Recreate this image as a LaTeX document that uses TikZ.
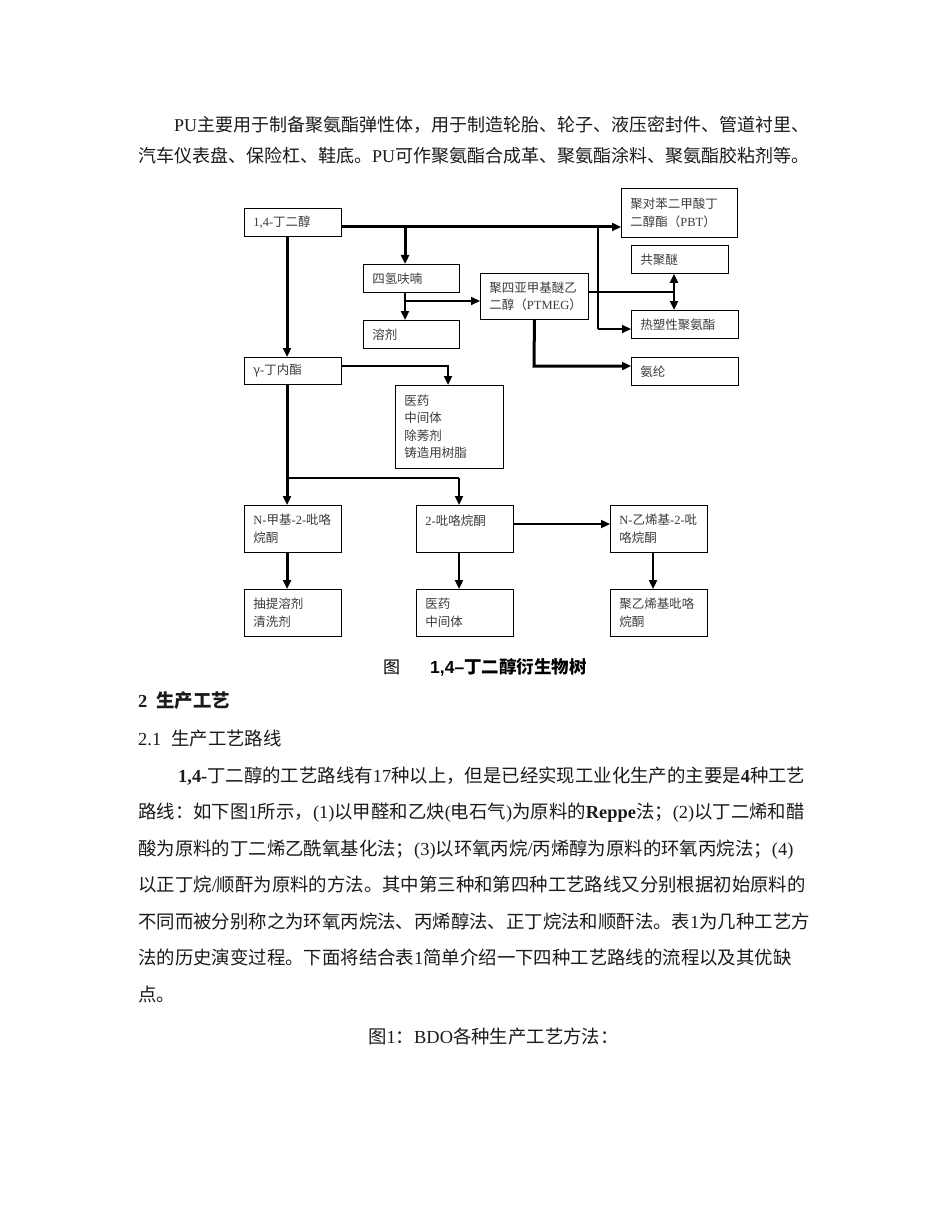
\documentclass[tikz,border=0pt]{standalone}
\usepackage{fontspec}
\setmainfont{Noto Sans CJK SC}
\newfontfamily\lat{Liberation Serif}
\newfontfamily\lsans{Liberation Sans}
\usetikzlibrary{arrows.meta}
\definecolor{ink}{HTML}{1A1A1A}
\definecolor{boxtxt}{HTML}{3C3C3C}
\XeTeXinterchartokenstate=1
\XeTeXinterchartoks 1 1 = {\hskip0pt plus 1pt minus 0.3pt}
\XeTeXinterchartoks 1 2 = {\hskip0pt plus 1pt minus 0.3pt}
\XeTeXinterchartoks 1 3 = {\hskip0pt plus 1pt minus 0.3pt}
\XeTeXinterchartoks 3 1 = {\hskip0pt plus 1pt minus 0.3pt}
\XeTeXinterchartoks 2 1 = {\hskip0pt plus 1pt minus 0.3pt}
\XeTeXinterchartoks 3 3 = {\hskip0pt plus 1pt minus 0.3pt}
\XeTeXinterchartoks 0 1 = {\hskip0pt plus 1pt minus 0.3pt}
\XeTeXinterchartoks 1 0 = {\hskip0pt plus 1pt minus 0.3pt}
\XeTeXinterchartoks 3 0 = {\hskip0pt plus 1pt minus 0.3pt}
\XeTeXinterchartoks 0 3 = {\hskip0pt plus 1pt minus 0.3pt}
\newcommand\bodyA{\fontsize{18}{20}\selectfont}
\newcommand\bodyB{\fontsize{18.4}{20}\selectfont}
\newcommand\jline[2]{\hbox to #1{#2}}
\newcommand\bx[6]{%
  \pgfmathsetmacro\bw{#4-#2}\pgfmathsetmacro\bh{#5-#3}\pgfmathsetmacro\btw{#4-#2-18}%
  \node[boxnode, minimum width=\bw pt, minimum height=\bh pt, text width=\btw pt] (#1) at (#2,#3) {#6};}
\begin{document}
\begin{tikzpicture}[x=1pt,y=-1pt,
  boxnode/.style={draw, line width=0.9pt, anchor=north west, align=left, inner xsep=9pt, inner ysep=0pt,
    text=boxtxt, font={\fontsize{12.5}{17.5}\selectfont}},
  txt/.style={anchor=base west, inner sep=0pt, text=ink},
  thk/.style={line width=3pt},
  med/.style={line width=2.2pt},
  thn/.style={line width=1.3pt},
  >={Triangle[length=9pt,width=8pt]}]
\fill[white] (0,0) rectangle (950,1230);
\useasboundingbox (0,0) rectangle (950,1230);

% upper paragraph
\node[txt, font=\bodyA] (p1) at (174,132) {\jline{639pt}{{\lat PU}主要用于制备聚氨酯弹性体，用于制造轮胎、轮子、液压密封件、管道衬里、}};
\node[txt, font=\bodyA] (p2) at (138,163) {\jline{672pt}{汽车仪表盘、保险杠、鞋底。{\lat PU}可作聚氨酯合成革、聚氨酯涂料、聚氨酯胶粘剂等。}};

% boxes
\bx{A}{244}{208}{341}{236}{{\lat 1,4-}丁二醇}
\bx{B}{363}{264}{459}{292}{四氢呋喃}
\bx{C}{363}{320}{459}{348}{溶剂}
\bx{D}{480}{273}{588}{319}{聚四亚甲基醚乙\\二醇（{\lat PTMEG}）}
\bx{E}{621}{188}{737}{237}{聚对苯二甲酸丁\\二醇酯（{\lat PBT}）}
\bx{F}{631}{245}{728}{273}{共聚醚}
\bx{G}{631}{310}{738}{338}{热塑性聚氨酯}
\bx{H}{631}{357}{738}{385}{氨纶}
\bx{I}{244}{357}{341}{384}{γ{\lat -}丁内酯}
\bx{J}{395}{385}{503}{468}{医药\\中间体\\除莠剂\\铸造用树脂}
\bx{K}{244}{505}{341}{552}{{\lat N-}甲基{\lat -2-}吡咯\\烷酮}
\bx{L}{416}{505}{513}{552}{{\lat 2-}吡咯烷酮\\\mbox{}}
\bx{M}{610}{505}{707}{552}{{\lat N-}乙烯基{\lat -2-}吡\\咯烷酮}
\bx{N}{244}{589}{341}{636}{抽提溶剂\\清洗剂}
\bx{O}{416}{589}{513}{636}{医药\\中间体}
\bx{P}{610}{589}{707}{636}{聚乙烯基吡咯\\烷酮}

% junctions
\coordinate (vA) at (287,0);
\coordinate (j1) at (405,227);
\coordinate (j2) at (598,227);
\coordinate (g) at (598,329);
\coordinate (j3) at (405,301);
\coordinate (k) at (674,292);
\coordinate (h) at (534,366);
\coordinate (j4) at (448,366);
\coordinate (j5) at (287,478);
\coordinate (j6) at (459,478);
\coordinate (l) at (0,524);
\coordinate (vM) at (653,0);

% connectors
\draw[thk,->] (A.east |- j1) -- (j1 -| E.west);
\draw[thk,->] (j1) -- (j1 |- B.north);
\draw[thn] (j2) -- (g);
\draw[med,->] (g) -- (g -| G.west);
\draw[med,->] (B.south -| j1) -- (C.north -| j1);
\draw[med,->] (j3) -- (j3 -| D.west);
\draw[thn] (D.east |- k) -- (k);
\draw[med,<->] (F.south -| k) -- (G.north -| k);
\draw[thk,->] (D.south) -- (h) -- (h -| H.west);
\draw[thk,->] (A.south -| vA) -- (I.north -| vA);
\draw[med,->] (I.east |- j4) -- (j4) -- (j4 |- J.north);
\draw[thk,->] (I.south -| vA) -- (K.north -| vA);
\draw[thn] (j5) -- (j6);
\draw[med,->] (j6) -- (j6 |- L.north);
\draw[med,->] (L.east |- l) -- (l -| M.west);
\draw[thk,->] (K.south -| vA) -- (N.north -| vA);
\draw[med,->] (L.south -| j6) -- (O.north -| j6);
\draw[med,->] (M.south -| vM) -- (P.north -| vM);

% figure caption
\node[txt, font={\fontsize{17}{20}\selectfont}, text=black] (cap1) at (383,673) {图};
\node[txt, font={\fontsize{17.5}{20}\selectfont\bfseries}, text=black] (cap2) at (430,673) {{\lsans\bfseries 1,4–}丁二醇衍生物树};

% lower text
\node[txt, font={\bodyB\bfseries}] (h1) at (138,707) {{\lat\bfseries 2}\hspace{9pt}生产工艺};
\node[txt, font=\bodyB] (h2) at (138,745) {{\lat 2.1}\hspace{10pt}生产工艺路线};
\node[txt, font=\bodyB] (q1) at (178,782) {\jline{628pt}{{\lat\bfseries 1,4-}丁二醇的工艺路线有{\lat 17}种以上，但是已经实现工业化生产的主要是{\lat\bfseries 4}种工艺}};
\node[txt, font=\bodyB] (q2) at (138,818.5) {\jline{668pt}{路线：如下图{\lat 1}所示，{\lat (1)}以甲醛和乙炔{\lat (}电石气{\lat )}为原料的{\lat\bfseries Reppe}法；{\lat (2)}以丁二烯和醋}};
\node[txt, font=\bodyB] (q3) at (138,855) {\jline{668pt}{酸为原料的丁二烯乙酰氧基化法；{\lat (3)}以环氧丙烷{\lat /}丙烯醇为原料的环氧丙烷法；{\lat (4)}}};
\node[txt, font=\bodyB] (q4) at (138,891.5) {\jline{668pt}{以正丁烷{\lat /}顺酐为原料的方法。其中第三种和第四种工艺路线又分别根据初始原料的}};
\node[txt, font=\bodyB] (q5) at (138,928) {\jline{668pt}{不同而被分别称之为环氧丙烷法、丙烯醇法、正丁烷法和顺酐法。表{\lat 1}为几种工艺方}};
\node[txt, font=\bodyB] (q6) at (138,964.5) {\jline{668pt}{法的历史演变过程。下面将结合表{\lat 1}简单介绍一下四种工艺路线的流程以及其优缺}};
\node[txt, font=\bodyB] (q7) at (138,1001) {点。};
\node[txt, font=\bodyB] (q8) at (368,1043) {图{\lat 1}：{\lat BDO}各种生产工艺方法：};
\end{tikzpicture}
\end{document}
